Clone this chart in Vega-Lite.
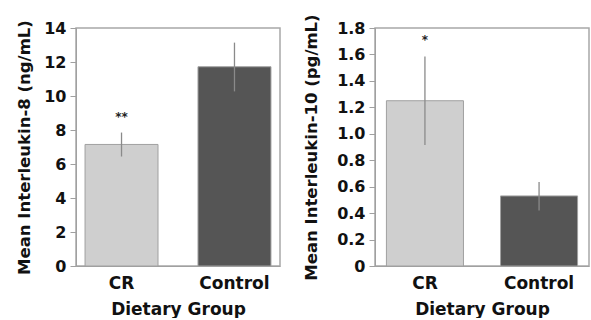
{
  "$schema": "https://vega.github.io/schema/vega-lite/v6.json",
  "background": "white",
  "padding": {"left": 15, "top": 13, "right": 0, "bottom": 0},
  "spacing": 21,
  "config": {
    "font": "DejaVu Sans",
    "view": {"stroke": "#a8a8a8", "strokeWidth": 1.5},
    "axis": {
      "labelFont": "DejaVu Sans", "labelFontWeight": "bold", "labelColor": "#111",
      "titleFont": "DejaVu Sans", "titleFontWeight": "bold", "titleColor": "#111",
      "domainColor": "#a0a0a0", "tickColor": "#a0a0a0", "grid": false, "labelOverlap": false
    }
  },
  "datasets": {
    "il8": [
      {"group": "CR", "mean": 7.15, "lo": 6.44, "hi": 7.85, "sig": "**"},
      {"group": "Control", "mean": 11.72, "lo": 10.27, "hi": 13.14, "sig": ""}
    ],
    "il10": [
      {"group": "CR", "mean": 1.25, "lo": 0.915, "hi": 1.585, "sig": "*"},
      {"group": "Control", "mean": 0.53, "lo": 0.42, "hi": 0.635, "sig": ""}
    ]
  },
  "hconcat": [
    {
      "width": 204, "height": 238,
      "data": {"name": "il8"},
      "encoding": {
        "x": {"field": "group", "type": "nominal", "sort": ["CR", "Control"],
          "scale": {"paddingInner": 0.354, "paddingOuter": 0.08},
          "axis": {"title": "Dietary Group", "labelAngle": 0, "ticks": false, "labelFontSize": 17, "labelPadding": 9, "titleFontSize": 17, "titlePadding": 10}}
      },
      "layer": [
        {"mark": {"type": "bar", "stroke": "#a0a0a0", "strokeWidth": 1},
          "encoding": {
            "y": {"field": "mean", "type": "quantitative", "scale": {"domain": [0, 14]},
              "axis": {"title": "Mean Interleukin-8 (ng/mL)", "values": [0, 2, 4, 6, 8, 10, 12, 14], "labelFontSize": 16, "tickSize": 6, "labelPadding": 4, "titleFontSize": 16.5, "titlePadding": 11}},
            "color": {"field": "group", "type": "nominal", "scale": {"domain": ["CR", "Control"], "range": ["#cfcfcf", "#555555"]}, "legend": null}
          }},
        {"mark": {"type": "rule", "color": "#8a8a8a", "strokeWidth": 1.3},
          "encoding": {"y": {"field": "lo", "type": "quantitative",
              "axis": {"title": "Mean Interleukin-8 (ng/mL)", "values": [0, 2, 4, 6, 8, 10, 12, 14], "labelFontSize": 16, "tickSize": 6, "labelPadding": 4, "titleFontSize": 16.5, "titlePadding": 11}},
            "y2": {"field": "hi"}}},
        {"mark": {"type": "text", "fontSize": 12, "fontWeight": "bold", "color": "#222", "baseline": "middle", "dy": -16},
          "encoding": {"y": {"field": "hi", "type": "quantitative",
              "axis": {"title": "Mean Interleukin-8 (ng/mL)", "values": [0, 2, 4, 6, 8, 10, 12, 14], "labelFontSize": 16, "tickSize": 6, "labelPadding": 4, "titleFontSize": 16.5, "titlePadding": 11}},
            "text": {"field": "sig"}}}
      ]
    },
    {
      "width": 214, "height": 238,
      "data": {"name": "il10"},
      "encoding": {
        "x": {"field": "group", "type": "nominal", "sort": ["CR", "Control"],
          "scale": {"paddingInner": 0.325, "paddingOuter": 0.1},
          "axis": {"title": "Dietary Group", "labelAngle": 0, "ticks": false, "labelFontSize": 17, "labelPadding": 9, "titleFontSize": 17, "titlePadding": 10}}
      },
      "layer": [
        {"mark": {"type": "bar", "stroke": "#a0a0a0", "strokeWidth": 1},
          "encoding": {
            "y": {"field": "mean", "type": "quantitative", "scale": {"domain": [0, 1.8]},
              "axis": {"title": "Mean Interleukin-10 (pg/mL)", "values": [0, 0.2, 0.4, 0.6, 0.8, 1.0, 1.2, 1.4, 1.6, 1.8], "labelExpr": "datum.value == 0 ? '0' : format(datum.value, '.1f')", "labelFontSize": 16, "tickSize": 6, "labelPadding": 4, "titleFontSize": 16.5, "titlePadding": 17}},
            "color": {"field": "group", "type": "nominal", "scale": {"domain": ["CR", "Control"], "range": ["#cfcfcf", "#555555"]}, "legend": null}
          }},
        {"mark": {"type": "rule", "color": "#8a8a8a", "strokeWidth": 1.3},
          "encoding": {"y": {"field": "lo", "type": "quantitative",
              "axis": {"title": "Mean Interleukin-10 (pg/mL)", "values": [0, 0.2, 0.4, 0.6, 0.8, 1.0, 1.2, 1.4, 1.6, 1.8], "labelExpr": "datum.value == 0 ? '0' : format(datum.value, '.1f')", "labelFontSize": 16, "tickSize": 6, "labelPadding": 4, "titleFontSize": 16.5, "titlePadding": 17}},
            "y2": {"field": "hi"}}},
        {"mark": {"type": "text", "fontSize": 12, "fontWeight": "bold", "color": "#222", "baseline": "middle", "dy": -16},
          "encoding": {"y": {"field": "hi", "type": "quantitative",
              "axis": {"title": "Mean Interleukin-10 (pg/mL)", "values": [0, 0.2, 0.4, 0.6, 0.8, 1.0, 1.2, 1.4, 1.6, 1.8], "labelExpr": "datum.value == 0 ? '0' : format(datum.value, '.1f')", "labelFontSize": 16, "tickSize": 6, "labelPadding": 4, "titleFontSize": 16.5, "titlePadding": 17}},
            "text": {"field": "sig"}}}
      ]
    }
  ]
}
